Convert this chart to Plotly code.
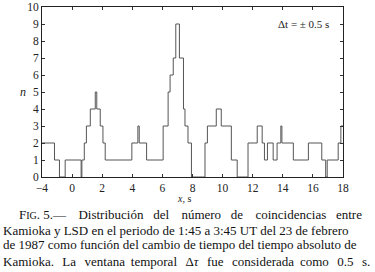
import plotly.graph_objects as go

# Step histogram: left edge of each constant segment and its count
x_breaks = [-2, -1.17, -0.84, -0.46, 0.60, 0.65, 0.81, 0.95, 1.21, 1.54,
            1.64, 1.87, 2.05, 2.20, 3.97, 4.37, 4.46, 4.95, 6.05, 6.38,
            6.51, 6.72, 6.89, 7.13, 7.40, 7.50, 7.70, 7.93, 8.83, 8.99,
            9.58, 9.91, 10.58, 10.97, 11.69, 12.30, 12.63, 12.78, 12.98, 13.36,
            13.62, 13.87, 13.94, 14.70, 15.70, 16.59, 16.85, 16.95, 17.68, 17.86]
counts = [2, 1, 0, 1, 0, 1, 2, 3, 4, 5,
          4, 3, 2, 1, 2, 3, 2, 1, 3, 5,
          6, 7, 9, 7, 4, 3, 2, 0, 2, 3,
          4, 3, 1, 0, 2, 3, 2, 1, 2, 1,
          2, 3, 2, 1, 2, 1, 0, 1, 2, 3]
x_end = 18

x_tickvals = [-2, 0, 2, 4, 6, 8, 10, 12, 14, 16, 18]
x_ticktext = ["\u22124", "0", "2", "4", "6", "8", "10", "12", "14", "16", "18"]
y_tickvals = list(range(0, 11))

G1 = "\u2002 "
G2 = "\u2002\u2009 "
W4a = " \u2009\u2009"
W4b = " \u2009"
caption = [
    "F<span style='font-size:10px'>IG</span>. 5.\u2014" + G2 + "Distribución" + G1 + "del"
    + G2 + "número" + G1 + "de" + G2 + "coincidencias" + G1 + "entre",
    "Kamioka y LSD en el periodo de 1:45 a 3:45 UT del 23 de febrero",
    "de 1987 como función del cambio de tiempo del tiempo absoluto de",
    "Kamioka." + W4a + "La" + W4a + "ventana" + W4b + "temporal" + W4a + "\u0394<i>\u03c4</i>"
    + W4a + "fue" + W4a + "considerada" + W4b + "como" + W4a + "0.5" + W4a + "s.",
]

xs = x_breaks + [x_end]
ys = counts + [counts[-1]]

fig = go.Figure()
fig.add_trace(go.Scatter(x=xs, y=ys, mode="lines", line_shape="hv",
                         line=dict(color="#555555", width=1), showlegend=False,
                         hoverinfo="skip"))

font = "'Liberation Serif', 'DejaVu Serif', 'Times New Roman', serif"
L, R, T, B = 42, 32, 7, 95
W, H = 375, 272
pw, ph = W - L - R, H - T - B

fig.update_layout(
    width=W, height=H, margin=dict(l=L, r=R, t=T, b=B, autoexpand=False),
    paper_bgcolor="white", plot_bgcolor="white",
    font=dict(family=font, size=11, color="#222"),
    xaxis=dict(range=[-2, 18], tickvals=x_tickvals, ticktext=x_ticktext,
               ticks="inside", ticklen=3, tickcolor="#333", showgrid=False,
               zeroline=False, showline=True, linecolor="#222", linewidth=1,
               mirror="ticks", tickfont=dict(size=11.5, family=font)),
    yaxis=dict(range=[0, 10], tickvals=y_tickvals, ticks="inside", ticklen=3,
               tickcolor="#333", showgrid=False, zeroline=False, showline=True,
               linecolor="#222", linewidth=1, mirror="ticks",
               tickfont=dict(size=11.5, family=font)),
)

def px2paper(px, py):
    return (px - L) / pw, (H - B - py) / ph

annots = []
ax, ay = px2paper(23, 92)
annots.append(dict(x=ax, y=ay, xref="paper", yref="paper", text="<i>n</i>",
                   xanchor="center", yanchor="middle",
                   showarrow=False, font=dict(size=12, family=font)))
ax, ay = px2paper(184, 198)
annots.append(dict(x=ax, y=ay, xref="paper", yref="paper", text="<i>x</i>, s",
                   xanchor="center", yanchor="middle",
                   showarrow=False, font=dict(size=10, family=font)))
ax, ay = px2paper(303, 24)
annots.append(dict(x=ax, y=ay, xref="paper", yref="paper",
                   text="\u0394t = \u00b1 0.5 s", showarrow=False,
                   xanchor="center", yanchor="middle",
                   font=dict(size=11, family=font)))
line_y = [214, 230, 245, 261]
line_x = [17, 1, 1, 1]
for t, lx, ly in zip(caption, line_x, line_y):
    ax, ay = px2paper(lx, ly)
    annots.append(dict(x=ax, y=ay, xref="paper", yref="paper", text=t,
                       xanchor="left", yanchor="middle", showarrow=False,
                       font=dict(size=13, family=font, color="#111")))
fig.update_layout(annotations=annots)

fig.write_html("out.html", config={"displayModeBar": False},
               post_script="document.body.style.margin='0';document.body.style.overflow='hidden';")
